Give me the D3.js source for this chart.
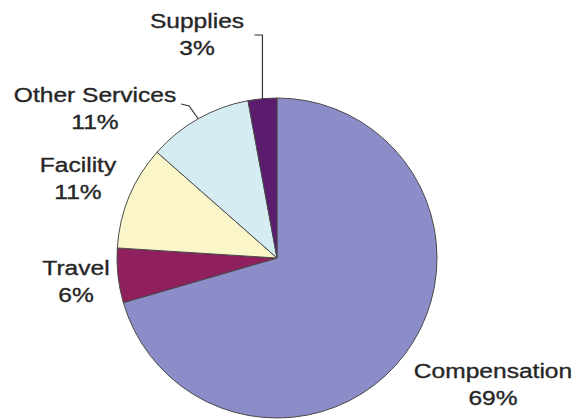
<!DOCTYPE html>
<html>
<head>
<meta charset="utf-8">
<script src="https://cdn.jsdelivr.net/npm/d3@7"></script>
<style>
  body { margin: 0; background: #fff; }
  svg text { font-family: "Liberation Sans", Arial, sans-serif; fill: #262626; stroke: #262626; stroke-width: 0.35; }
</style>
</head>
<body>
<div id="chart"></div>
<script>
// categories, clockwise from 12 o'clock
var categories = ["Compensation", "Travel", "Facility", "Other Services", "Supplies"];
// slice sizes
var shares = [70.5, 5.5, 10.5, 10.6, 2.9];
// percent labels printed on the chart
var pctLabels = ["69%", "6%", "11%", "11%", "3%"];
var colors = ["#8c8dc8", "#901f5e", "#fbf6ca", "#d5ecf3", "#5b1b6f"];

var width = 587, height = 419;
var cx = 277, cy = 258, radius = 160;

// label centres (layout only)
var labelPos = {
  "Compensation": [493, 378],
  "Travel": [76, 275],
  "Facility": [78, 172],
  "Other Services": [95, 102],
  "Supplies": [197, 28]
};

var svg = d3.select("#chart")
  .append("svg")
  .attr("width", width)
  .attr("height", height);

var g = svg.append("g")
  .attr("transform", "translate(" + cx + "," + cy + ")");

var pie = d3.pie().sort(null).value(function (d) { return d.v; });
var arc = d3.arc().innerRadius(0).outerRadius(radius);

var data = categories.map(function (c, i) {
  return { name: c, v: shares[i], pct: pctLabels[i], color: colors[i] };
});
var arcs = pie(data);

g.selectAll("path.slice")
  .data(arcs)
  .enter()
  .append("path")
  .attr("class", "slice")
  .attr("d", arc)
  .attr("fill", function (d) { return d.data.color; })
  .attr("stroke", "#4a4a4a")
  .attr("stroke-width", 1);

// leader lines for the two small top slices
function mid(d) { return (d.startAngle + d.endAngle) / 2; }

var sup = arcs[4];
var ps = d3.pointRadial(mid(sup), radius);
g.append("polyline")
  .attr("points", [[ps[0], ps[1]], [ps[0], 35 - cy], [ps[0] - 8, 35 - cy]].join(" "))
  .attr("fill", "none")
  .attr("stroke", "#333")
  .attr("stroke-width", 1.2);

var oth = arcs[3];
var po = d3.pointRadial(mid(oth), radius);
g.append("polyline")
  .attr("points", [[po[0], po[1]], [po[0] - 9, 106 - cy], [po[0] - 17, 104 - cy]].join(" "))
  .attr("fill", "none")
  .attr("stroke", "#333")
  .attr("stroke-width", 1.2);

// labels
var labels = svg.selectAll("g.label")
  .data(arcs)
  .enter()
  .append("g")
  .attr("class", "label")
  .attr("transform", function (d) {
    var p = labelPos[d.data.name];
    return "translate(" + p[0] + "," + p[1] + ") scale(1.17,1)";
  });

labels.append("text")
  .attr("text-anchor", "middle")
  .attr("font-size", 21)
  .text(function (d) { return d.data.name; });

labels.append("text")
  .attr("text-anchor", "middle")
  .attr("font-size", 21)
  .attr("y", 27)
  .text(function (d) { return d.data.pct; });
</script>
</body>
</html>
